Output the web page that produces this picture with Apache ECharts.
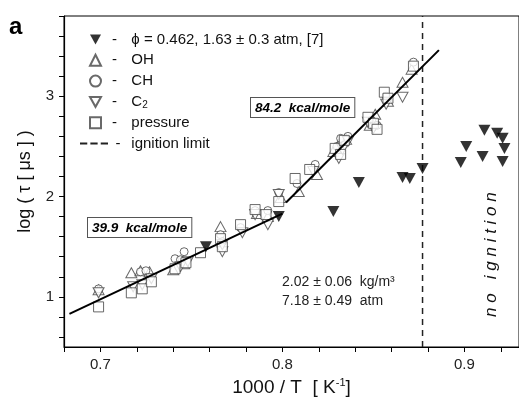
<!DOCTYPE html>
<html>
<head>
<meta charset="utf-8">
<script src="https://cdn.jsdelivr.net/npm/echarts@6/dist/echarts.min.js"></script>
<style>html,body{margin:0;padding:0;background:#fff}#c{width:519px;height:403px}</style>
</head>
<body>
<div id="c"></div>
<script>
// ---- data ----
const phiData = [[0.758,1.50],[0.798,1.80],[0.828,1.85],[0.842,2.14],[0.866,2.19],[0.870,2.18],[0.877,2.28],
  [0.898,2.34],[0.901,2.50],[0.910,2.40],[0.911,2.66],[0.918,2.63],[0.921,2.58],[0.922,2.48],[0.921,2.35]];
const ohData = [[0.699,1.07],[0.717,1.24],[0.722,1.26],[0.727,1.25],[0.740,1.27],[0.746,1.33],[0.766,1.70],
  [0.792,1.80],[0.786,1.83],[0.799,1.99],[0.809,2.05],[0.819,2.22],[0.831,2.52],[0.835,2.57],[0.828,2.45],
  [0.851,2.82],[0.848,2.71],[0.858,2.95],[0.866,3.14],[0.871,3.27]];
const chData = [[0.699,1.08],[0.722,1.25],[0.725,1.26],[0.741,1.38],[0.746,1.45],[0.744,1.37],[0.766,1.62],
  [0.767,1.55],[0.777,1.69],[0.785,1.86],[0.792,1.86],[0.798,2.04],[0.808,2.13],[0.818,2.32],[0.832,2.58],
  [0.836,2.60],[0.830,2.50],[0.849,2.76],[0.852,2.71],[0.857,3.00],[0.872,3.34]];
const c2Data = [[0.699,1.04],[0.718,1.10],[0.723,1.12],[0.728,1.18],[0.744,1.30],[0.748,1.35],[0.767,1.45],
  [0.767,1.52],[0.778,1.64],[0.785,1.82],[0.792,1.72],[0.798,2.02],[0.817,2.25],[0.831,2.38],[0.833,2.47],
  [0.836,2.55],[0.850,2.68],[0.847,2.74],[0.866,2.99],[0.857,2.92]];
const pressureData = [[0.699,0.90],[0.717,1.04],[0.723,1.08],[0.728,1.15],[0.741,1.28],[0.747,1.34],[0.755,1.44],
  [0.766,1.58],[0.767,1.50],[0.777,1.72],[0.785,1.87],[0.791,1.82],[0.798,1.95],[0.807,2.18],[0.815,2.27],
  [0.829,2.48],[0.834,2.56],[0.832,2.42],[0.847,2.79],[0.850,2.73],[0.852,2.67],[0.856,3.04],[0.858,2.98],[0.872,3.30]];
const fitLow = [[0.683,0.83],[0.800,1.83]];
const fitHigh = [[0.802,1.94],[0.886,3.46]];
const ignitionLimit = [[0.877,0.5],[0.877,3.8]];
const xTicks = [0.68,0.70,0.72,0.74,0.76,0.78,0.80,0.82,0.84,0.86,0.88,0.90,0.92];
const xLabels = [0.7,0.8,0.9];
const yTicks = [0.6,0.8,1.0,1.2,1.4,1.6,1.8,2.0,2.2,2.4,2.6,2.8,3.0,3.2,3.4,3.6,3.8];
const yLabels = [1,2,3];
const symbolSeries = ['phi','OH','CH','C2','pressure'];
const legendText = {
  'phi': '\u03d5 = 0.462, 1.63 \u00b1 0.3 atm, [7]',
  'OH': 'OH',
  'CH': 'CH',
  'C2': 'C{sub|2}',
  'pressure': 'pressure',
  'ignition limit': 'ignition limit'
};

const FONT = 'Liberation Sans, Arial, sans-serif';
const downTri = 'path://M0,0L10,0L5,9Z';
const dashIcon = 'path://M0,0h7v2h-7z M10,0h7v2h-7z M20,0h7v2h-7z';
const openStyle = {color:'#fff', borderColor:'#444', borderWidth:1};
const legendRich = {
  d:{width:17, align:'right', fontSize:15, fontFamily:FONT, color:'#111', lineHeight:17},
  d2:{width:10, align:'right', fontSize:15, fontFamily:FONT, color:'#111', lineHeight:17},
  sub:{fontSize:10, fontFamily:FONT, color:'#111', lineHeight:12, padding:[6,0,0,0]}
};

const chart = echarts.init(document.getElementById('c'), null, {renderer:'canvas'});
chart.setOption({
  animation:false,
  textStyle:{fontFamily:FONT},
  grid:{left:64, top:16, width:461, height:331, show:true, borderColor:'#000', borderWidth:1, backgroundColor:'transparent'},
  xAxis:{type:'value', min:0.68, max:0.93,
    name:'1000 / T  [ K{sup|-1}]', nameLocation:'middle', nameGap:30,
    nameTextStyle:{fontSize:19, color:'#111', fontFamily:FONT, rich:{sup:{fontSize:11, padding:[0,0,11,0], fontFamily:FONT, color:'#111'}}},
    axisLine:{lineStyle:{color:'#000', width:1.2}},
    axisTick:{show:true, inside:false, length:5, customValues:xTicks, lineStyle:{color:'#000'}},
    axisLabel:{customValues:xLabels, fontSize:15, color:'#222', margin:10, formatter:v=>v.toFixed(1)},
    splitLine:{show:false}},
  yAxis:{type:'value', min:0.5, max:3.8,
    name:'log ( \u03c4 [ \u03bcs ] )', nameLocation:'middle', nameGap:30,
    nameTextStyle:{fontSize:18, color:'#111', fontFamily:FONT},
    axisLine:{lineStyle:{color:'#000', width:1.2}},
    axisTick:{show:true, inside:false, length:5, customValues:yTicks, lineStyle:{color:'#000'}},
    axisLabel:{customValues:yLabels, fontSize:15, color:'#222', margin:10, formatter:v=>String(v)},
    splitLine:{show:false}},
  legend:[
    {orient:'vertical', left:89, top:31, padding:0, itemWidth:11, itemHeight:11, itemGap:3.8,
      data:symbolSeries, formatter:n=>'{d|-}  '+legendText[n],
      textStyle:{fontSize:15, lineHeight:17, color:'#111', fontFamily:FONT, rich:legendRich},
      selectedMode:false},
    {orient:'vertical', left:80, top:135, padding:0, itemWidth:28, itemHeight:12,
      data:[{name:'ignition limit', icon:dashIcon}], formatter:n=>'{d2|-}  '+legendText[n],
      textStyle:{fontSize:15, lineHeight:17, color:'#111', fontFamily:FONT, rich:legendRich},
      selectedMode:false}
  ],
  series:[
    {name:'phi', type:'scatter', data:phiData, symbol:downTri, symbolSize:[12,11], itemStyle:{color:'#000'}, z:5},
    {name:'OH', type:'scatter', data:ohData, symbol:'triangle', symbolSize:[11,10], itemStyle:openStyle},
    {name:'CH', type:'scatter', data:chData, symbol:'circle', symbolSize:8, itemStyle:openStyle},
    {name:'C2', type:'scatter', data:c2Data, symbol:downTri, symbolSize:[11,10], itemStyle:openStyle},
    {name:'pressure', type:'scatter', data:pressureData, symbol:'rect', symbolSize:10, itemStyle:openStyle},
    {name:'ignition limit', type:'line', data:ignitionLimit, symbol:'none', itemStyle:{color:'#222'},
      lineStyle:{color:'#222', width:1.5, type:[6,5]}},
    {name:'fitLow', type:'line', data:fitLow, symbol:'none', lineStyle:{color:'#000', width:2}, z:6},
    {name:'fitHigh', type:'line', data:fitHigh, symbol:'none', lineStyle:{color:'#000', width:2}, z:6}
  ],
  graphic:[
    {type:'text', left:9, top:15, style:{text:'a', font:'bold 24px '+FONT, fill:'#000'}},
    {type:'text', left:87, top:217, style:{text:'39.9  kcal/mole', font:'italic bold 13.5px '+FONT, fill:'#000',
      borderColor:'#555', borderWidth:1, padding:[3,4,2,4], backgroundColor:'#fff'}},
    {type:'text', left:250, top:97, style:{text:'84.2  kcal/mole', font:'italic bold 13.5px '+FONT, fill:'#000',
      borderColor:'#555', borderWidth:1, padding:[3,4,2,4], backgroundColor:'#fff'}},
    {type:'text', left:282, top:275, style:{text:'2.02 \u00b1 0.06  kg/m\u00b3', font:'14px '+FONT, fill:'#222'}},
    {type:'text', left:282, top:294, style:{text:'7.18 \u00b1 0.49  atm', font:'14px '+FONT, fill:'#222'}},
    {type:'text', x:491, y:317, rotation:Math.PI/2, style:{text:'n o   i g n i t i o n', font:'italic 17px '+FONT, fill:'#111', textVerticalAlign:'middle'}}
  ]
});
</script>
</body>
</html>
